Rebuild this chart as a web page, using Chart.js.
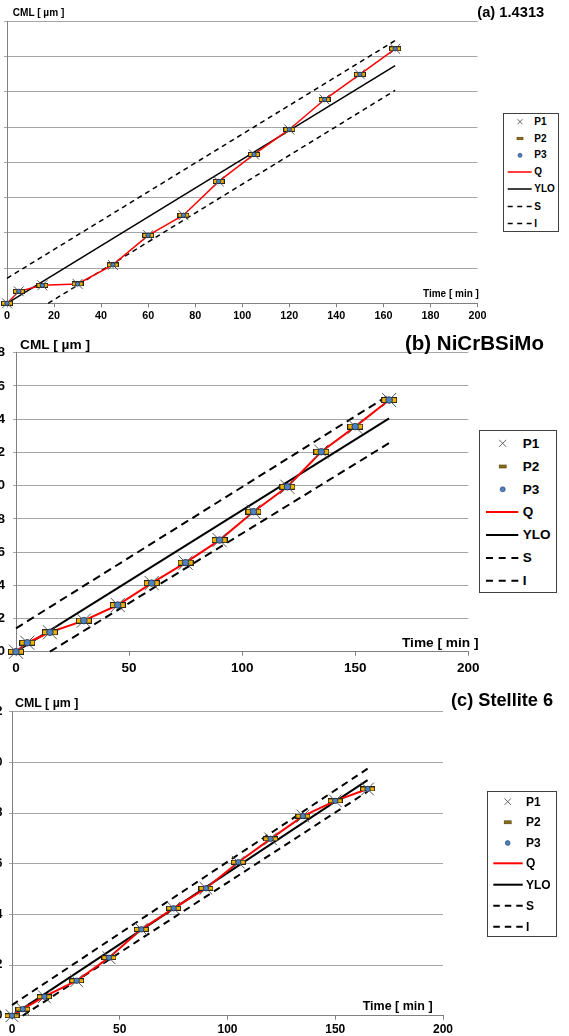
<!DOCTYPE html>
<html><head><meta charset="utf-8">
<script src="https://cdn.jsdelivr.net/npm/chart.js@4.4.1/dist/chart.umd.min.js"></script>
<style>
html,body{margin:0;padding:0;background:#fff;}
body{width:569px;height:1036px;overflow:hidden;position:relative;font-family:"Liberation Sans",Arial,sans-serif;}
canvas{position:absolute;}
.t{position:absolute;font-weight:bold;color:#000;white-space:nowrap;line-height:1;}
.lg{position:absolute;border:1px solid #404040;background:#fff;box-sizing:border-box;}
</style></head><body>
<canvas id="ca" width="629" height="330" style="left:-60px;top:0px"></canvas>
<canvas id="cb" width="629" height="350" style="left:-60px;top:330px"></canvas>
<canvas id="cc" width="629" height="380" style="left:-60px;top:680px"></canvas>

<div class="t" style="left:12.7px;top:8.3px;font-size:10.1px">CML [ µm ]</div>
<div class="t" style="left:477.3px;top:4.8px;font-size:14.7px">(a) 1.4313</div>
<div class="t" style="left:423px;top:289.1px;font-size:10px">Time [ min ]</div>

<div class="t" style="left:20px;top:338.3px;font-size:13.7px">CML [ µm ]</div>
<div class="t" style="left:405px;top:333.3px;font-size:20.5px">(b) NiCrBSiMo</div>
<div class="t" style="left:402px;top:636.3px;font-size:13.7px">Time [ min ]</div>

<div class="t" style="left:15px;top:697.2px;font-size:12.4px">CML [ µm ]</div>
<div class="t" style="left:451px;top:691.1px;font-size:18.2px">(c) Stellite 6</div>
<div class="t" style="left:362.7px;top:999.9px;font-size:12.5px">Time [ min ]</div>

<script>
// ---------- data ----------
const times = [0, 5, 15, 30, 45, 60, 75, 90, 105, 120, 135, 150, 165];
const fitX = [0, 165];
const legendLabels = ['P1', 'P2', 'P3', 'Q', 'YLO', 'S', 'I'];

// (a) 1.4313
const aXTicks = [0, 20, 40, 60, 80, 100, 120, 140, 160, 180, 200];
const aYTicks = [0, 2, 4, 6, 8, 10, 12, 14, 16];
const aP1 = [0, 0.68, 1.02, 1.10, 2.18, 3.86, 5.00, 6.92, 8.45, 9.87, 11.57, 13.00, 14.45];
const aP2 = [0, 0.68, 1.02, 1.10, 2.18, 3.86, 5.00, 6.92, 8.45, 9.87, 11.57, 13.00, 14.45];
const aP3 = [0, 0.68, 1.02, 1.10, 2.18, 3.86, 5.00, 6.92, 8.45, 9.87, 11.57, 13.00, 14.45];
const aQ  = [0, 0.68, 1.02, 1.10, 2.18, 3.86, 5.00, 6.92, 8.45, 9.87, 11.57, 13.00, 14.45];
const aYLO = [0, 13.5];
const aS = [1.42, 14.92];
const aIX = [17.5, 165];
const aI = [0, 12.09];

// (b) NiCrBSiMo
const bXTicks = [0, 50, 100, 150, 200];
const bYTicks = [0, 2, 4, 6, 8, 10, 12, 14, 16, 18];
const bP1 = [0, 0.54, 1.17, 1.87, 2.81, 4.13, 5.36, 6.72, 8.43, 9.93, 12.04, 13.55, 15.15];
const bP2 = [0, 0.54, 1.17, 1.87, 2.81, 4.13, 5.36, 6.72, 8.43, 9.93, 12.04, 13.55, 15.15];
const bP3 = [0, 0.54, 1.17, 1.87, 2.81, 4.13, 5.36, 6.72, 8.43, 9.93, 12.04, 13.55, 15.15];
const bQ  = [0, 0.54, 1.17, 1.87, 2.81, 4.13, 5.36, 6.72, 8.43, 9.93, 12.04, 13.55, 15.15];
const bYLO = [0, 14.05];
const bS = [1.41, 15.45];
const bIX = [15, 165];
const bI = [0, 12.56];

// (c) Stellite 6
const cXTicks = [0, 50, 100, 150, 200];
const cYTicks = [0, 2, 4, 6, 8, 10, 12];
const cP1 = [0, 0.26, 0.75, 1.38, 2.29, 3.41, 4.24, 5.03, 6.06, 6.98, 7.88, 8.48, 8.95];
const cP2 = [0, 0.26, 0.75, 1.38, 2.29, 3.41, 4.24, 5.03, 6.06, 6.98, 7.88, 8.48, 8.95];
const cP3 = [0, 0.26, 0.75, 1.38, 2.29, 3.41, 4.24, 5.03, 6.06, 6.98, 7.88, 8.48, 8.95];
const cQ  = [0, 0.26, 0.75, 1.38, 2.29, 3.41, 4.24, 5.03, 6.06, 6.98, 7.88, 8.48, 8.95];
const cYLO = [0, 9.3];
const cS = [0.42, 9.75];
const cIX = [5, 165];
const cI = [0, 8.85];

// ---------- rendering ----------
const FONT = "'Liberation Sans', Arial, sans-serif";
function pts(xs, ys) { return xs.map((x, i) => ({ x: x, y: ys[i] })); }
function rectImg(w, h) {
  const c = document.createElement('canvas'); c.width = w; c.height = h;
  const g = c.getContext('2d');
  g.fillStyle = '#f2b200'; g.fillRect(0, 0, w, h);
  g.strokeStyle = '#2a2418'; g.lineWidth = 1; g.strokeRect(0.5, 0.5, w - 1, h - 1);
  return c;
}

const panels = [
  { id: 'ca', h: 330, yW: 67, padR: 91.5, padT: 21.5, xH: 26.7, fs: 10.8, yPad: 6, xPad: 2.2,
    xT: aXTicks, yT: aYTicks, P1: aP1, P2: aP2, P3: aP3, Q: aQ, ylo: aYLO, s: aS, iX: aIX, i: aI,
    crossR: 7, rect: [12, 5], dotR: 2.2, lw: 1.5, dash: [5, 4] },
  { id: 'cb', h: 350, yW: 76, padR: 100.7, padT: 22.7, xH: 28.3, fs: 13.5, yPad: 8, xPad: 4.5,
    xT: bXTicks, yT: bYTicks, P1: bP1, P2: bP2, P3: bP3, Q: bQ, ylo: bYLO, s: bS, iX: bIX, i: bI,
    crossR: 10, rect: [16, 6], dotR: 3.3, lw: 2, dash: [8, 5] },
  { id: 'cc', h: 380, yW: 72, padR: 126, padT: 31.7, xH: 44.3, fs: 12, yPad: 6.5, xPad: 3.1,
    xT: cXTicks, yT: cYTicks, P1: cP1, P2: cP2, P3: cP3, Q: cQ, ylo: cYLO, s: cS, iX: cIX, i: cI,
    crossR: 9, rect: [15, 5], dotR: 2.7, lw: 2, dash: [7, 5] }
];

panels.forEach(p => {
  const img = rectImg(p.rect[0], p.rect[1]);
  new Chart(document.getElementById(p.id), {
    type: 'line',
    data: { datasets: [
      { label: 'P3', data: pts(times, p.P3), showLine: false, pointStyle: 'circle', pointRadius: p.dotR,
        pointBackgroundColor: '#4f81bd', pointBorderColor: '#1c2c4c', pointBorderWidth: 0.8, clip: false },
      { label: 'P1', data: pts(times, p.P1), showLine: false, pointStyle: 'crossRot', pointRadius: p.crossR,
        pointBorderColor: '#555', pointBorderWidth: 1, clip: false },
      { label: 'P2', data: pts(times, p.P2), showLine: false, pointStyle: img, pointRadius: 3, clip: false },
      { label: 'Q', data: pts(times, p.Q), borderColor: '#ff0000', borderWidth: p.lw, pointRadius: 0, clip: false },
      { label: 'YLO', data: pts(fitX, p.ylo), borderColor: '#000', borderWidth: p.lw, pointRadius: 0, clip: false },
      { label: 'S', data: pts(fitX, p.s), borderColor: '#000', borderWidth: p.lw, borderDash: p.dash, pointRadius: 0, clip: false },
      { label: 'I', data: pts(p.iX, p.i), borderColor: '#000', borderWidth: p.lw, borderDash: p.dash, pointRadius: 0, clip: false }
    ]},
    options: {
      responsive: false, animation: false, devicePixelRatio: 1,
      layout: { padding: { left: 0, right: p.padR, top: p.padT, bottom: 0 } },
      plugins: { legend: { display: false }, tooltip: { enabled: false } },
      elements: { line: { tension: 0 } },
      scales: {
        x: { type: 'linear', min: p.xT[0], max: p.xT[p.xT.length - 1],
          afterBuildTicks: s => { s.ticks = p.xT.map(v => ({ value: v })); },
          afterFit: s => { s.height = p.xH; },
          ticks: { font: { family: FONT, size: p.fs, weight: 'bold' }, color: '#000', padding: p.xPad, maxRotation: 0, autoSkip: false },
          grid: { drawOnChartArea: false, drawTicks: true, tickLength: 4, color: '#808080' },
          border: { color: '#808080', width: 1 } },
        y: { type: 'linear', min: p.yT[0], max: p.yT[p.yT.length - 1],
          afterBuildTicks: s => { s.ticks = p.yT.map(v => ({ value: v })); },
          afterFit: s => { s.width = p.yW; },
          ticks: { font: { family: FONT, size: p.fs, weight: 'bold' }, color: '#000', padding: p.yPad, autoSkip: false },
          grid: { color: '#a6a6a6', lineWidth: 1, tickLength: 3, drawTicks: true },
          border: { color: '#808080', width: 1 } }
      }
    }
  });
});

// ---------- legends ----------
const legends = [
  { x: 502.7, y: 113.3, w: 56.3, h: 118.4, rows: [121.7, 138.5, 155.3, 172, 189, 206.5, 223.5],
    sx: 520, tx: 534.3, l0: 507.7, l1: 531.7, fs: 10, lw: 1.5, dash: '5 4.5', cr: 2.5, rw: 6, rh: 2.5, dr: 2 },
  { x: 479.3, y: 430, w: 77.4, h: 163.3, rows: [443.3, 466.5, 489.3, 512, 535, 558, 580.7],
    sx: 502.7, tx: 522.7, l0: 486, l1: 518.3, fs: 13.5, lw: 2, dash: '7 5.7', cr: 3.5, rw: 7, rh: 3, dr: 2.5 },
  { x: 487.3, y: 790.7, w: 69.4, h: 146.6, rows: [801.7, 822.3, 843, 863.3, 884.7, 905.7, 926.7],
    sx: 507.7, tx: 526, l0: 493.3, l1: 522.7, fs: 12, lw: 2, dash: '6.5 5', cr: 3.2, rw: 7, rh: 3, dr: 2.4 }
];
const NS = 'http://www.w3.org/2000/svg';
function el(tag, attrs) { const e = document.createElementNS(NS, tag); for (const k in attrs) e.setAttribute(k, attrs[k]); return e; }
legends.forEach(L => {
  const box = document.createElement('div'); box.className = 'lg';
  Object.assign(box.style, { left: L.x + 'px', top: L.y + 'px', width: L.w + 'px', height: L.h + 'px' });
  document.body.appendChild(box);
  const svg = el('svg', { width: 569, height: 1036 });
  svg.style.cssText = 'position:absolute;left:0;top:0;';
  document.body.appendChild(svg);
  legendLabels.forEach((lab, i) => {
    const y = L.rows[i];
    if (lab === 'P1') {
      svg.appendChild(el('line', { x1: L.sx - L.cr, y1: y - L.cr, x2: L.sx + L.cr, y2: y + L.cr, stroke: '#666', 'stroke-width': 1 }));
      svg.appendChild(el('line', { x1: L.sx - L.cr, y1: y + L.cr, x2: L.sx + L.cr, y2: y - L.cr, stroke: '#666', 'stroke-width': 1 }));
    } else if (lab === 'P2') {
      svg.appendChild(el('rect', { x: L.sx - L.rw / 2, y: y - L.rh / 2, width: L.rw, height: L.rh, fill: '#8b6d14', stroke: '#4d3d10', 'stroke-width': 0.6 }));
    } else if (lab === 'P3') {
      svg.appendChild(el('circle', { cx: L.sx, cy: y, r: L.dr, fill: '#4f81bd', stroke: '#2c4a7a', 'stroke-width': 0.7 }));
    } else {
      const a = { x1: L.l0, y1: y, x2: L.l1, y2: y, stroke: lab === 'Q' ? '#ff0000' : '#000', 'stroke-width': L.lw };
      if (lab === 'S' || lab === 'I') a['stroke-dasharray'] = L.dash;
      svg.appendChild(el('line', a));
    }
    const t = document.createElement('div'); t.className = 't'; t.textContent = lab;
    t.style.left = L.tx + 'px'; t.style.top = (y - 0.49 * L.fs) + 'px'; t.style.fontSize = L.fs + 'px';
    document.body.appendChild(t);
  });
});
</script>
</body></html>
